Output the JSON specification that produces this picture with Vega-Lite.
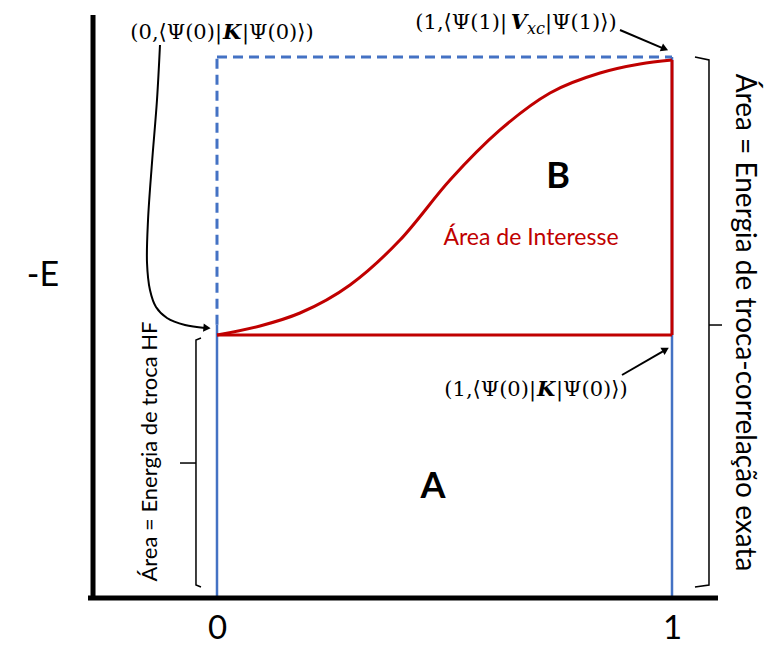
{
  "$schema": "https://vega.github.io/schema/vega-lite/v6.json",
  "width": 765,
  "height": 648,
  "autosize": {"type": "none"},
  "padding": 0,
  "background": "white",
  "config": {"view": {"stroke": null}, "font": "Lato"},
  "encoding": {
    "x": {"field": "x", "type": "quantitative", "scale": {"domain": [-0.476923, 1.204396], "nice": false, "zero": false},
      "axis": {"values": [0, 1], "domain": false, "ticks": false, "grid": false, "title": null, "labelFont": "Lato", "labelFontSize": 33, "labelColor": "black", "offset": -50, "labelPadding": 14, "orient": "bottom"}},
    "y": {"field": "y", "type": "quantitative", "scale": {"domain": [-0.092421, 1.10536], "nice": false, "zero": false}, "axis": null}
  },
  "layer": [
    {
      "data": {"values": [
        {"x": 0, "y": 0, "x2": 0, "y2": 0.505},
        {"x": 1, "y": 0, "x2": 1, "y2": 1}
      ]},
      "mark": {"type": "rule", "color": "#4472C4", "strokeWidth": 2.5},
      "encoding": {"x2": {"field": "x2"}, "y2": {"field": "y2"}}
    },
    {
      "data": {"values": [
        {"x": 0, "y": 0.505, "x2": 0, "y2": 1},
        {"x": 0, "y": 1, "x2": 1, "y2": 1}
      ]},
      "mark": {"type": "rule", "color": "#4472C4", "strokeWidth": 3, "strokeDash": [10, 6]},
      "encoding": {"x2": {"field": "x2"}, "y2": {"field": "y2"}}
    },
    {
      "data": {"values": [
        {"x": 0, "y": 0.486, "x2": 1, "y2": 0.486},
        {"x": 1, "y": 0.486, "x2": 1, "y2": 0.9945}
      ]},
      "mark": {"type": "rule", "color": "#C00000", "strokeWidth": 3},
      "encoding": {"x2": {"field": "x2"}, "y2": {"field": "y2"}}
    },
    {
      "data": {"values": [
        {"x": 0, "y": 0.486},
        {"x": 0.0945, "y": 0.5028},
        {"x": 0.1824, "y": 0.5268},
        {"x": 0.2923, "y": 0.5786},
        {"x": 0.4022, "y": 0.6617},
        {"x": 0.5121, "y": 0.7726},
        {"x": 0.622, "y": 0.8651},
        {"x": 0.7319, "y": 0.9335},
        {"x": 0.8418, "y": 0.9704},
        {"x": 0.9297, "y": 0.9871},
        {"x": 1, "y": 0.9945}
      ]},
      "mark": {"type": "line", "color": "#C00000", "strokeWidth": 3, "interpolate": "monotone"},
      "encoding": {}
    },
    {
      "data": {"values": [
        {"x": -0.2725, "y": -0.0037, "x2": -0.2725, "y2": 1.0776},
        {"x": -0.2835, "y": 0, "x2": 1.1011, "y2": 0}
      ]},
      "mark": {"type": "rule", "color": "black", "strokeWidth": 5},
      "encoding": {"x2": {"field": "x2"}, "y2": {"field": "y2"}}
    },
    {
      "data": {"values": [
        {"part": "L", "step": 1, "x": -0.0352, "y": 0.4806},
        {"part": "L", "step": 2, "x": -0.0462, "y": 0.4770},
        {"part": "L", "step": 3, "x": -0.0462, "y": 0.0240},
        {"part": "L", "step": 4, "x": -0.0352, "y": 0.0203},
        {"part": "Lm", "step": 1, "x": -0.0462, "y": 0.2495},
        {"part": "Lm", "step": 2, "x": -0.0813, "y": 0.2495},
        {"part": "R", "step": 1, "x": 1.0505, "y": 1.0},
        {"part": "R", "step": 2, "x": 1.0813, "y": 0.9945},
        {"part": "R", "step": 3, "x": 1.0813, "y": 0.0240},
        {"part": "R", "step": 4, "x": 1.0505, "y": 0.0203},
        {"part": "Rm", "step": 1, "x": 1.0813, "y": 0.5046},
        {"part": "Rm", "step": 2, "x": 1.1099, "y": 0.5046}
      ]},
      "mark": {"type": "line", "color": "black", "strokeWidth": 1.5},
      "encoding": {"detail": {"field": "part"}, "order": {"field": "step", "type": "quantitative"}}
    },
    {
      "data": {"values": [
        {"arrow": "a", "step": 1, "x": -0.1253, "y": 1.0222},
        {"arrow": "a", "step": 2, "x": -0.1319, "y": 0.9205},
        {"arrow": "a", "step": 3, "x": -0.1429, "y": 0.8041},
        {"arrow": "a", "step": 4, "x": -0.1516, "y": 0.6987},
        {"arrow": "a", "step": 5, "x": -0.1538, "y": 0.6192},
        {"arrow": "a", "step": 6, "x": -0.1473, "y": 0.5693},
        {"arrow": "a", "step": 7, "x": -0.1341, "y": 0.5379},
        {"arrow": "a", "step": 8, "x": -0.1099, "y": 0.5176},
        {"arrow": "a", "step": 9, "x": -0.0703, "y": 0.5046},
        {"arrow": "a", "step": 10, "x": -0.0264, "y": 0.4991},
        {"arrow": "b", "step": 1, "x": 0.8857, "y": 1.0499},
        {"arrow": "b", "step": 2, "x": 0.9780, "y": 1.0170},
        {"arrow": "c", "step": 1, "x": 0.8901, "y": 0.4122},
        {"arrow": "c", "step": 2, "x": 0.9800, "y": 0.4560}
      ]},
      "mark": {"type": "line", "color": "black", "strokeWidth": 2, "interpolate": "catmull-rom"},
      "encoding": {"detail": {"field": "arrow"}, "order": {"field": "step", "type": "quantitative"}}
    },
    {
      "data": {"values": [{"x": -0.0220, "y": 0.4991}]},
      "mark": {"type": "point", "shape": "triangle-right", "filled": true, "color": "black", "opacity": 1, "size": 70, "angle": 5},
      "encoding": {}
    },
    {
      "data": {"values": [{"x": 0.9840, "y": 1.0150}]},
      "mark": {"type": "point", "shape": "triangle-right", "filled": true, "color": "black", "opacity": 1, "size": 70, "angle": 23},
      "encoding": {}
    },
    {
      "data": {"values": [{"x": 0.9860, "y": 0.4590}]},
      "mark": {"type": "point", "shape": "triangle-right", "filled": true, "color": "black", "opacity": 1, "size": 70, "angle": -30},
      "encoding": {}
    },
    {
      "data": {"values": [{"x": -0.3824, "y": 0.5952, "label": "-E"}]},
      "mark": {"type": "text", "font": "Lato", "fontSize": 34, "color": "black", "align": "center", "baseline": "middle"},
      "encoding": {"text": {"field": "label"}}
    },
    {
      "data": {"values": [
        {"x": 0.7495, "y": 0.7782, "label": "B"},
        {"x": 0.4747, "y": 0.2052, "label": "A"}
      ]},
      "mark": {"type": "text", "font": "Lato", "fontSize": 36, "fontWeight": "bold", "color": "black", "align": "center", "baseline": "middle"},
      "encoding": {"text": {"field": "label"}}
    },
    {
      "data": {"values": [{"x": 0.6901, "y": 0.6654, "label": "Área de Interesse"}]},
      "mark": {"type": "text", "font": "Lato", "fontSize": 23, "color": "#C00000", "align": "center", "baseline": "middle"},
      "encoding": {"text": {"field": "label"}}
    },
    {
      "data": {"values": [{"x": -0.1473, "y": 0.2708, "label": "Área = Energia de troca HF"}]},
      "mark": {"type": "text", "font": "Lato", "fontSize": 22, "color": "black", "align": "center", "baseline": "middle", "angle": 270},
      "encoding": {"text": {"field": "label"}}
    },
    {
      "data": {"values": [{"x": 1.1582, "y": 0.5092, "label": "Área = Energia de troca-correlação exata"}]},
      "mark": {"type": "text", "font": "Lato", "fontSize": 28, "color": "black", "align": "center", "baseline": "middle", "angle": 90},
      "encoding": {"text": {"field": "label"}}
    },
    {
      "data": {"values": [
        {"x": 0.011, "y": 1.0444, "label": "(0,⟨Ψ(0)|"},
        {"x": 0.6374, "y": 1.0628, "label": "(1,⟨Ψ(1)|"},
        {"x": 0.7011, "y": 0.3845, "label": "(1,⟨Ψ(0)|"}
      ]},
      "mark": {"type": "text", "font": "DejaVu Serif", "fontSize": 21, "color": "black", "align": "right", "baseline": "middle"},
      "encoding": {"text": {"field": "label"}}
    },
    {
      "data": {"values": [
        {"x": 0.055, "y": 1.0444, "label": "|Ψ(0)⟩)"},
        {"x": 0.7209, "y": 1.0628, "label": "|Ψ(1)⟩)"},
        {"x": 0.7451, "y": 0.3845, "label": "|Ψ(0)⟩)"}
      ]},
      "mark": {"type": "text", "font": "DejaVu Serif", "fontSize": 21, "color": "black", "align": "left", "baseline": "middle"},
      "encoding": {"text": {"field": "label"}}
    },
    {
      "data": {"values": [
        {"x": 0.033, "y": 1.0444, "label": "K"},
        {"x": 0.6637, "y": 1.0628, "label": "V"},
        {"x": 0.7231, "y": 0.3845, "label": "K"}
      ]},
      "mark": {"type": "text", "font": "DejaVu Serif", "fontSize": 21, "fontWeight": "bold", "fontStyle": "italic", "color": "black", "align": "center", "baseline": "middle"},
      "encoding": {"text": {"field": "label"}}
    },
    {
      "data": {"values": [{"x": 0.7011, "y": 1.0518, "label": "xc"}]},
      "mark": {"type": "text", "font": "DejaVu Serif", "fontSize": 16, "fontStyle": "italic", "color": "black", "align": "center", "baseline": "middle"},
      "encoding": {"text": {"field": "label"}}
    }
  ]
}
